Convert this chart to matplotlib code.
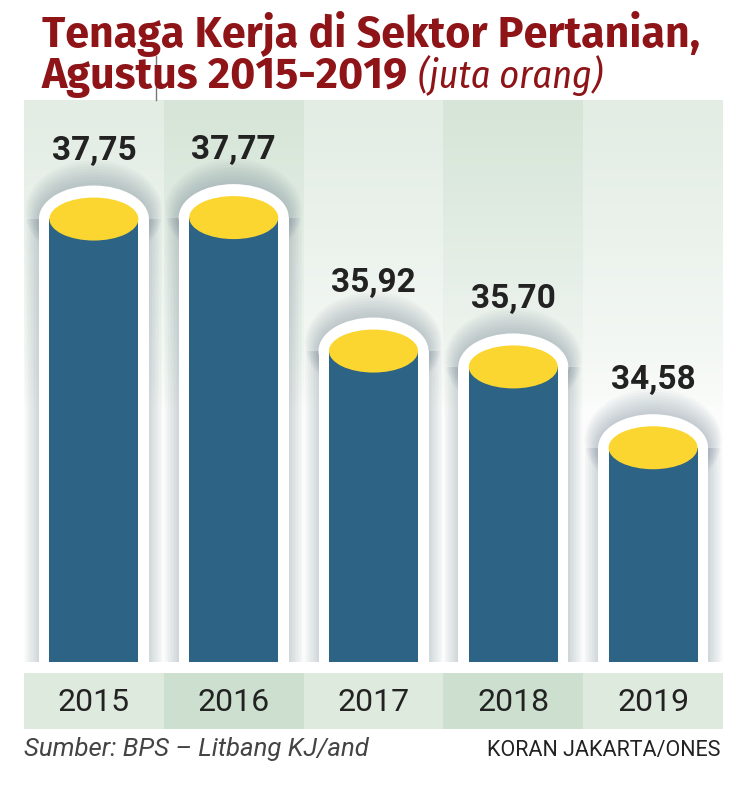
import matplotlib
matplotlib.use("Agg")
import matplotlib.pyplot as plt
from matplotlib.patches import Ellipse, Rectangle
from matplotlib.lines import Line2D
import numpy as np

years = ["2015", "2016", "2017", "2018", "2019"]
values = [37.75, 37.77, 35.92, 35.70, 34.58]
value_labels = ["37,75", "37,77", "35,92", "35,70", "34,58"]

title_1 = "Tenaga Kerja di Sektor Pertanian,"
title_2 = "Agustus 2015-2019 "
title_unit = "(juta orang)"
source = "Sumber: BPS \u2013 Litbang KJ/and"
credit = "KORAN JAKARTA/ONES"

W, H = 747, 800
TITLE_FONT = ["Fira Sans", "Roboto", "DejaVu Sans"]
UNIT_FONT = ["Fira Sans Condensed", "Fira Sans", "Roboto", "DejaVu Sans"]
SANS = ["Roboto", "DejaVu Sans"]
RED = "#8e1418"
BLUE = "#2d6384"
YELLOW = "#fcd630"

fig = plt.figure(figsize=(W / 100, H / 100), dpi=100)
fig.patch.set_facecolor("white")
r = fig.canvas.get_renderer()


def fx(px):
    return px / W


def fy(py):
    return 1 - py / H


# main plot area in pixels: x 24..723, y 100..662
ax = fig.add_axes([fx(24), fy(662), fx(723) - fx(24), fy(100) - fy(662)])
ymin, ymax = 31.61, 39.40
ax.set_xlim(-0.5, 4.5)
ax.set_ylim(ymin, ymax)
ax.axis("off")

px_per_y = 562 / (ymax - ymin)
px_per_x = 699 / 5.0

# column backgrounds: white at top fading into pale green lower down
col_colors = ["#e3ede4", "#d6e5d8", "#e3ede4", "#d6e5d8", "#e3ede4"]
n = 200
frac_from_top = np.linspace(1, 0, n)  # row 0 = bottom (origin lower)
t = np.clip(1 - frac_from_top / 0.55, 0, 1) ** 0.7
t = 0.12 + 0.88 * t
for i, c in enumerate(col_colors):
    rgb = np.array(matplotlib.colors.to_rgb(c))
    grad = (1 - t)[:, None] * np.ones(3) + t[:, None] * rgb
    ax.imshow(grad[:, None, :], extent=(i - 0.5, i + 0.5, ymin, ymax), origin="lower",
              aspect="auto", zorder=0, interpolation="bilinear")
ax.set_xlim(-0.5, 4.5)
ax.set_ylim(ymin, ymax)

bar_w = 89 / px_per_x
cap_h = 43 / px_per_y
halo_w = 110 / px_per_x
halo_h = 2 * 33.5 / px_per_y

for i, v in enumerate(values):
    # soft grey shadow around the white halo
    for k in range(9, 0, -1):
        dx = k * 1.5 / px_per_x
        dy = k * 2.0 / px_per_y
        ax.add_patch(Rectangle((i - halo_w / 2 - dx, ymin), halo_w + 2 * dx, v - ymin,
                               facecolor="#66788a", alpha=0.03, lw=0, zorder=1))
        ax.add_patch(Ellipse((i, v + dy * 0.4), halo_w + 2 * dx, halo_h + 2 * dy,
                             facecolor="#66788a", alpha=0.045, lw=0, zorder=1))
    # white halo
    ax.add_patch(Rectangle((i - halo_w / 2, ymin), halo_w, v - ymin,
                           facecolor="white", lw=0, zorder=2))
    ax.add_patch(Ellipse((i, v), halo_w, halo_h, facecolor="white", lw=0, zorder=2))
    # cylinder body and top
    ax.add_patch(Rectangle((i - bar_w / 2, ymin), bar_w, v - ymin,
                           facecolor=BLUE, lw=0, zorder=3))
    ax.add_patch(Ellipse((i, v), bar_w, cap_h, facecolor=YELLOW, lw=0, zorder=4))
    ax.text(i, v + 68 / px_per_y, value_labels[i], ha="center", va="center",
            fontsize=24, fontweight="bold", color="#222222", family=SANS, zorder=5)

# year band
band = fig.add_axes([fx(24), fy(729), fx(723) - fx(24), fy(673) - fy(729)])
band.set_xlim(-0.5, 4.5)
band.set_ylim(0, 1)
band.axis("off")
band_colors = ["#dfeadf", "#cde0cf", "#dfeadf", "#cde0cf", "#dfeadf"]
for i, y in enumerate(years):
    band.axvspan(i - 0.5, i + 0.5, color=band_colors[i], lw=0)
    band.text(i, 0.47, y, ha="center", va="center", fontsize=23,
              color="#222222", family=SANS)

# title, sized so the first line spans about 660 px like the original
t1 = fig.text(fx(42), fy(47), title_1, ha="left", va="baseline", fontsize=30,
              fontweight="bold", color=RED, family=TITLE_FONT)
w1 = t1.get_window_extent(r).width
tsize = 30 * 660 / w1
t1.set_fontsize(tsize)
t2 = fig.text(fx(42), fy(88), title_2, ha="left", va="baseline", fontsize=tsize,
              fontweight="bold", color=RED, family=TITLE_FONT)
bb = t2.get_window_extent(r)
t3 = fig.text(bb.x1 / W, fy(88), title_unit, ha="left", va="baseline", fontsize=tsize,
              style="italic", color=RED, family=UNIT_FONT)
w3 = t3.get_window_extent(r).width
t3.set_fontsize(min(tsize, tsize * 185 / w3))

# stray text cursor mark in the original artwork
fig.add_artist(Line2D([fx(156), fx(156)], [fy(56), fy(100)], color="#777777", lw=1))

# footer
fig.text(fx(24), fy(756), source, ha="left", va="baseline", fontsize=18.5,
         style="italic", color="#444444", family=SANS)
fig.text(fx(720), fy(756), credit, ha="right", va="baseline", fontsize=15.5,
         color="#222222", family=SANS)

fig.savefig("out.png", dpi=100, facecolor="white")
